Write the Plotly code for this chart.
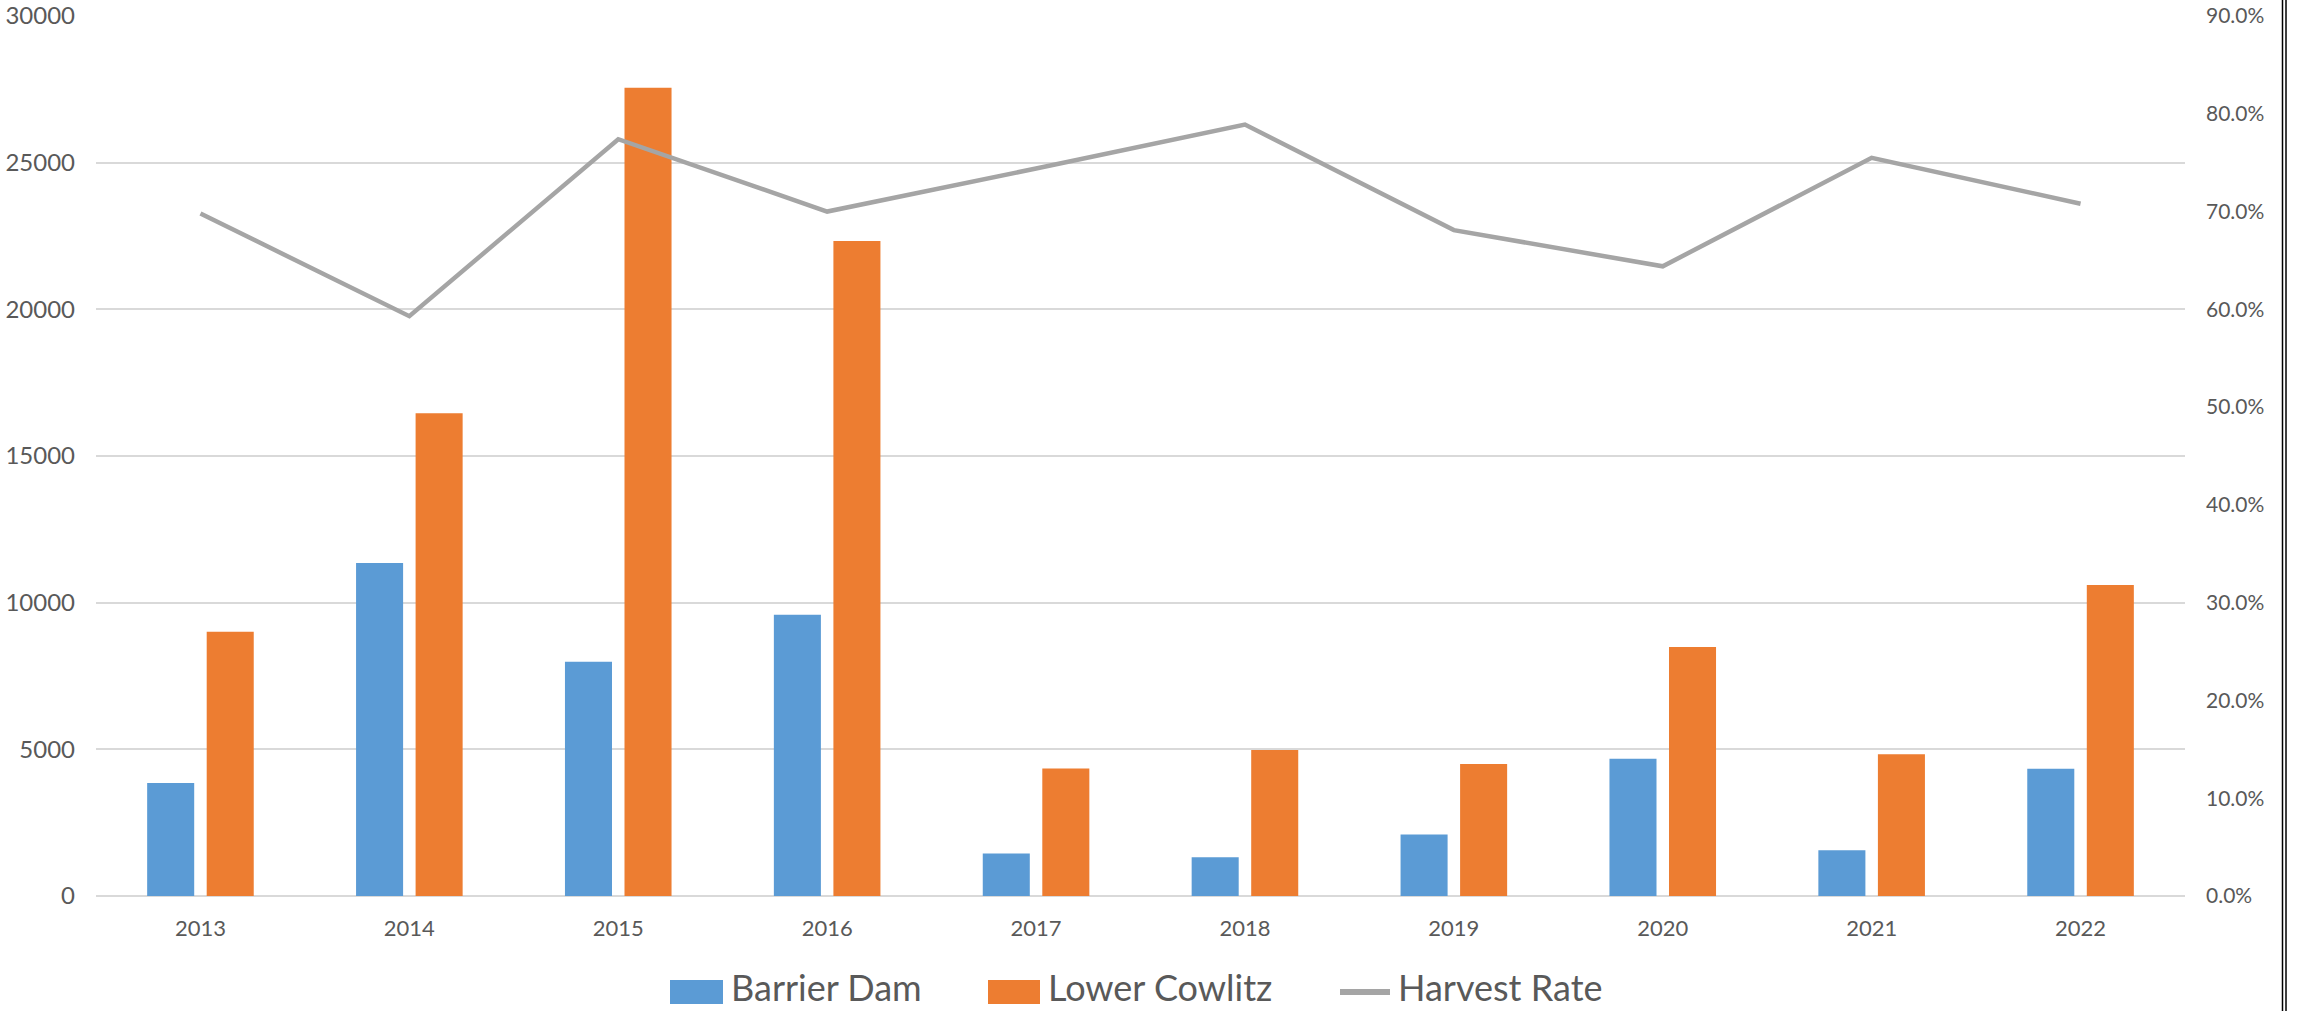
import plotly.graph_objects as go

years = ["2013", "2014", "2015", "2016", "2017", "2018", "2019", "2020", "2021", "2022"]
barrier_dam = [3850, 11350, 7990, 9590, 1450, 1320, 2100, 4680, 1560, 4340]
lower_cowlitz = [9010, 16460, 27550, 22330, 4350, 4980, 4500, 8490, 4830, 10600]
harvest_rate = [0.698, 0.593, 0.774, 0.700, 0.744, 0.789, 0.681, 0.644, 0.755, 0.708]

left_ticks = [0, 5000, 10000, 15000, 20000, 25000, 30000]
right_ticks = [0, 0.1, 0.2, 0.3, 0.4, 0.5, 0.6, 0.7, 0.8, 0.9]

FONT = "Lato"
TXT = "#595959"
GRID = "#d9d9d9"
BLUE = "#5B9BD5"
ORANGE = "#ED7D31"
GREY = "#A5A5A5"

# plot area in page pixels: x 96..2185, y 16..896
W, H = 2300, 1011
PL, PR, PT, PB = 96, 2185, 16, 896
PW, PH = PR - PL, PB - PT


def px(x):
    return (x - PL) / PW


def py(y):
    return (PB - y) / PH


fig = go.Figure()
fig.add_trace(go.Bar(x=years, y=barrier_dam, name="Barrier Dam",
                     marker=dict(color=BLUE, line=dict(width=0))))
fig.add_trace(go.Bar(x=years, y=lower_cowlitz, name="Lower Cowlitz",
                     marker=dict(color=ORANGE, line=dict(width=0))))
fig.add_trace(go.Scatter(x=years, y=harvest_rate, name="Harvest Rate", mode="lines",
                         yaxis="y2", line=dict(color=GREY, width=4.5)))

fig.update_layout(
    width=W, height=H,
    margin=dict(l=PL, r=W - PR, t=PT, b=H - PB, autoexpand=False),
    paper_bgcolor="white", plot_bgcolor="white",
    barmode="group", bargap=0.43, bargroupgap=0.21,
    font=dict(family=FONT, color=TXT, size=22),
    showlegend=False,
    xaxis=dict(type="category", showgrid=False, showline=False, ticks="",
               automargin=False,
               tickfont=dict(size=22, color=TXT), ticklabelstandoff=17),
    yaxis=dict(range=[0, 30000], tickvals=left_ticks, tickformat="d",
               automargin=False,
               showgrid=True, gridcolor=GRID, gridwidth=1.5,
               zeroline=True, zerolinecolor=GRID, zerolinewidth=1.5,
               showline=False, ticks="", tickfont=dict(size=24, color=TXT),
               ticklabelstandoff=20),
    yaxis2=dict(range=[0, 0.9], tickvals=right_ticks, tickformat=".1%",
                automargin=False,
                overlaying="y", side="right", showgrid=False, zeroline=False,
                showline=False, ticks="", tickfont=dict(size=21, color=TXT),
                ticklabelstandoff=20),
)

# legend drawn below the plot (large Excel-style swatches)
legend_items = [
    ("Barrier Dam", "rect", BLUE, 670, 723, 730),
    ("Lower Cowlitz", "rect", ORANGE, 988, 1040, 1047),
    ("Harvest Rate", "line", GREY, 1337, 1393, 1397),
]
for name, kind, color, x0, x1, xt in legend_items:
    if kind == "rect":
        fig.add_shape(type="rect", xref="paper", yref="paper",
                      x0=px(x0), x1=px(x1), y0=py(1004), y1=py(980),
                      fillcolor=color, line=dict(width=0))
    else:
        fig.add_shape(type="line", xref="paper", yref="paper",
                      x0=px(x0 + 3), x1=px(x1 - 3), y0=py(992), y1=py(992),
                      line=dict(color=color, width=6))
    fig.add_annotation(text=name, xref="paper", yref="paper", x=px(xt), y=py(987),
                       xanchor="left", yanchor="middle", showarrow=False,
                       borderpad=0,
                       font=dict(family=FONT, size=36, color=TXT))

# window edge (double black line at right edge of the picture)
for xp in (2282.5, 2286):
    fig.add_shape(type="line", xref="paper", yref="paper",
                  x0=px(xp), x1=px(xp), y0=py(1011), y1=py(0),
                  line=dict(color="black", width=1.5))

fig.write_html("out.html",
               config={"displayModeBar": False},
               post_script="document.body.style.margin='0';"
                           "document.body.style.overflow='hidden';")
